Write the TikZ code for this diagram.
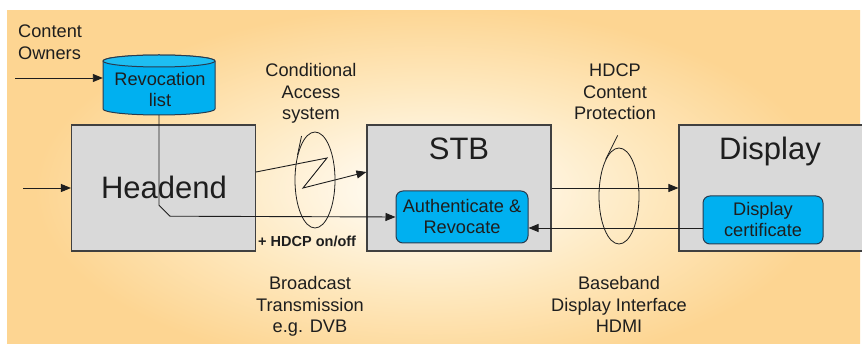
\documentclass[tikz,border=0pt]{standalone}
\usepackage{fontspec}
\setmainfont{Liberation Sans}
\usetikzlibrary{arrows.meta,shapes.geometric}
\definecolor{bgout}{RGB}{253,213,146}
\definecolor{bgmid}{RGB}{254,232,190}
\definecolor{bgin}{RGB}{255,248,234}
\definecolor{boxgray}{RGB}{217,217,217}
\definecolor{boxline}{RGB}{64,64,64}
\definecolor{cyanfill}{RGB}{0,176,240}
\definecolor{cyantop}{RGB}{30,190,242}
\definecolor{cyanline}{RGB}{40,60,80}
\definecolor{ink}{RGB}{30,30,30}
% the middle 50bp square of a shading is stretched over the shaded path
\pgfdeclareradialshading{bgglow}{\pgfpointorigin}{color(0bp)=(bgin); color(4bp)=(bgin); color(13bp)=(bgmid); color(23bp)=(bgout); color(50bp)=(bgout)}
\tikzset{
  unit/.style={draw=boxline, line width=1.1pt, fill=boxgray, minimum width=184pt, minimum height=126pt, inner sep=0pt},
  module/.style={draw=cyanline, line width=1pt, fill=cyanfill, rounded corners=7pt, inner sep=0pt},
  txt/.style={font=\fontsize{18.2}{21.5}\selectfont, align=center, inner sep=0pt, text=ink},
  modtxt/.style={font=\fontsize{18.2}{21}\selectfont, align=center, inner sep=0pt, text=ink},
  title/.style={font=\fontsize{31}{36}\selectfont, inner sep=0pt, text=ink},
  link/.style={draw=ink, line width=0.9pt, -{Triangle[length=10pt,width=8pt]}},
  plain/.style={draw=ink, line width=0.8pt},
  ring/.style={draw=ink, line width=0.8pt, ellipse, minimum width=40pt, minimum height=96pt, inner sep=0pt}
}
\begin{document}
\begin{tikzpicture}[x=1pt,y=-1pt]
\useasboundingbox (0,0) rectangle (862,344);
\clip (0,0) rectangle (862,344);
\fill[white] (0,0) rectangle (862,344);
% warm background glow
\begin{scope}
  \clip (7,11) rectangle (862,344);
  \shade[shading=bgglow] (0,-10) rectangle (860,390);
\end{scope}

% main units
\node[unit] (headend) at (163.5,188) {};
\node[unit] (stb) at (459,188) {};
\node[unit] (display) at (771,188) {};

% inner modules
\node[module, minimum width=132pt, minimum height=52pt] (auth) at (462,217) {};
\node[module, minimum width=120pt, minimum height=48pt] (dcert) at (763,220) {};

% revocation list database
\node[minimum width=112pt, minimum height=60pt, inner sep=0pt] (revlist) at (159,85) {};
\path[fill=cyanfill, draw=cyanline, line width=1pt]
  (103,61) -- (103,109) arc[start angle=180, end angle=360, x radius=56pt, y radius=6pt]
  -- (215,61) arc[start angle=0, end angle=180, x radius=56pt, y radius=6pt] -- cycle;
\path[fill=cyantop, draw=cyanline, line width=1pt] (159,61) ellipse[x radius=56pt, y radius=6pt];

% free ends of the incoming arrows
\coordinate (ownersrc) at (15,78);
\coordinate (feedsrc) at (23,188);

% connectors
\draw[link] (ownersrc) -- (ownersrc -| revlist.west);
\draw[link] (feedsrc) -- (headend.west);
\draw[link] (revlist.south) -- ++(0,90) -- ++(11,11) -- (auth.west);
\draw[link] ([yshift=16pt]headend.east) -- (327,158) -- (303,188) -- ([yshift=16pt]stb.west);
\draw[link] (stb.east) -- (display.west);
\draw[link] ([yshift=-8pt]dcert.west) -- ([yshift=-8pt]dcert.west -| auth.east);

% link bundles
\node[ring] (caring) at (315,180) {};
\node[ring] (hdring) at (619,196) {};
\draw[plain] (caring.125) -- ++(4,-19);
\draw[plain] (hdring.110) -- ++(12,-24);

% labels (base anchor of a multi-line node sits on its last line)
\node[title, anchor=base] (headendlbl) at (164,199) {Headend};
\node[title, anchor=base] (stblbl) at (459,160) {STB};
\node[title, anchor=base] (displaylbl) at (770,160) {Display};
\node[modtxt, anchor=base] (authlbl) at (462,234) {Authenticate \&\\Revocate};
\node[modtxt, anchor=base] (dcertlbl) at (763,237) {Display\\certificate};
\node[modtxt, anchor=base] (revlbl) at (160,107) {Revocation\\list};
\node[txt, anchor=base west, align=left] (ownerslbl) at (18,59.5) {Content\\Owners};
\node[txt, anchor=base] (calbl) at (311,120) {Conditional\\Access\\system};
\node[txt, anchor=base] (hdcplbl) at (615,120) {HDCP\\Content\\Protection};
\node[txt, anchor=base] (bcastlbl) at (310,333) {Broadcast\\Transmission\\e.g. DVB};
\node[txt, anchor=base] (baselbl) at (619,333) {Baseband\\Display Interface\\HDMI};
\node[font=\fontsize{14.5}{17}\selectfont\bfseries, text=ink, inner sep=0pt, anchor=base west] (onofflbl) at (258,247) {+ HDCP on/off};
\end{tikzpicture}
\end{document}
